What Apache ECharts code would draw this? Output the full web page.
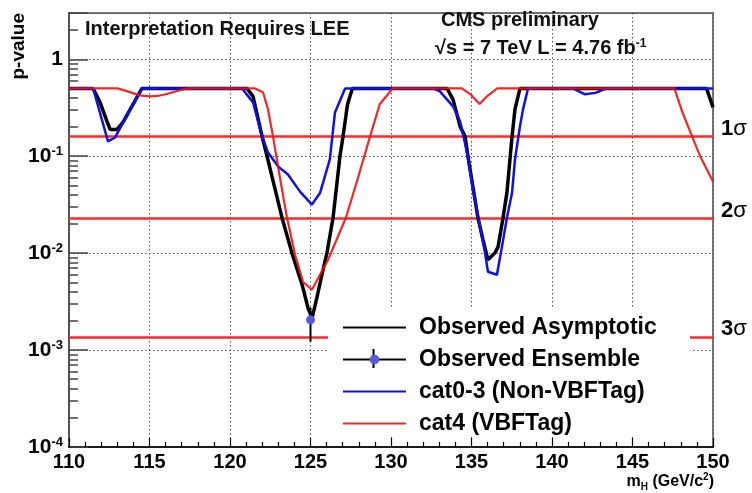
<!DOCTYPE html>
<html><head><meta charset="utf-8">
<script src="https://cdn.jsdelivr.net/npm/echarts@6/dist/echarts.min.js"></script>
<style>html,body{margin:0;padding:0;background:#fff}#c{width:752px;height:493px}</style>
</head><body><div id="c"></div>
<script>
// ---- data ----
const obsMass = [110, 111.5, 111.93, 112.36, 112.55, 112.98, 113.35, 114.53,
  121.06, 121.43, 121.99, 122.3, 123.23, 123.85, 124.5, 124.85, 125.1, 125.4, 125.7, 126.02, 126.4, 126.83, 127.02, 127.3, 127.6,
  133.48, 133.85, 134.29, 134.6, 134.78, 135.4, 135.71, 136.02, 136.46, 136.65, 136.96, 137.2, 137.52, 137.7, 138.01,
  149.6, 150];
const obsP = [0.5, 0.5, 0.359, 0.229, 0.189, 0.189, 0.223, 0.5,
  0.5, 0.414, 0.16, 0.1, 0.0232, 0.01, 0.0046, 0.0027, 0.00215, 0.0035, 0.0059, 0.01, 0.0232, 0.1, 0.16, 0.343, 0.5,
  0.5, 0.386, 0.203, 0.16, 0.1, 0.0232, 0.0138, 0.00855, 0.0101, 0.0116, 0.0232, 0.0421, 0.16, 0.304, 0.5,
  0.5, 0.319];

const c03Mass = [110, 111.5, 112.42, 112.86, 114.53,
  120.75, 121.43, 122.0, 122.36, 123.0, 123.6, 124.35, 125.09, 125.6, 126.2, 126.52, 127.15,
  132.61, 133.04, 133.85, 134.29, 134.72, 135.09, 135.53, 135.84, 136.02, 136.58, 136.89, 137.2, 137.52, 137.7, 138.01, 138.2, 138.51,
  141.3, 142.05, 142.7, 143.4, 150];
const c03P = [0.5, 0.5, 0.142, 0.156, 0.5,
  0.5, 0.359, 0.16, 0.109, 0.078, 0.0646, 0.0431, 0.0317, 0.042, 0.0925, 0.283, 0.5,
  0.5, 0.467, 0.327, 0.229, 0.109, 0.0453, 0.0188, 0.0101, 0.00642, 0.00598, 0.0116, 0.0232, 0.0421, 0.0925, 0.203, 0.304, 0.5,
  0.5, 0.435, 0.45, 0.5, 0.5];

const c4Mass = [110, 113.0, 113.5, 114.0, 114.5, 115.0, 115.5, 116.0, 116.5, 117.0, 117.4,
  121.55, 122.05, 122.36, 122.67, 123.1, 123.54, 124.04, 124.53, 125.09, 126.09, 127.2, 127.95, 128.7, 129.3, 130.1,
  134.4, 134.9, 135.5, 136.0, 136.6,
  147.6, 148.1, 148.7, 149.2, 150];
const c4P = [0.5, 0.5, 0.475, 0.445, 0.422, 0.414, 0.418, 0.435, 0.46, 0.485, 0.5,
  0.5, 0.456, 0.304, 0.16, 0.0602, 0.0232, 0.0096, 0.00506, 0.00419, 0.00855, 0.0232, 0.06, 0.16, 0.343, 0.5,
  0.5, 0.44, 0.345, 0.42, 0.5,
  0.5, 0.283, 0.16, 0.1, 0.0547];

const ensMass = [125];
const ensP = [0.00205];
const ensLo = [0.00122];
const ensHi = [0.00275];

const sigmaP = [0.1587, 0.02275, 0.00135];
const sigmaLabels = ['1σ', '2σ', '3σ'];

const seriesNames = ['Observed Asymptotic', 'Observed Ensemble', 'cat0-3 (Non-VBFTag)', 'cat4 (VBFTag)'];
const xTicks = [110, 115, 120, 125, 130, 135, 140, 145, 150];
const yDecades = [-4, -3, -2, -1, 0];

// ---- chart ----
const FONT = '"Liberation Sans", Arial, Helvetica, sans-serif';
const zip = (a, b) => a.map((m, i) => [m, b[i]]);
const minorY = [];
yDecades.forEach(e => { for (let k = 2; k <= 9; k++) { const v = k * Math.pow(10, e); if (v < 2.9) minorY.push(v); } });
const noSym = { color: 'rgba(0,0,0,0)', borderColor: 'rgba(0,0,0,0)', borderWidth: 0, opacity: 0 };

const chart = echarts.init(document.getElementById('c'), null, { renderer: 'canvas' });
const option = {
  animation: false,
  backgroundColor: '#fff',
  grid: { left: 69, right: 39, top: 13, bottom: 46, show: true, borderColor: '#777', borderWidth: 2, backgroundColor: 'transparent' },
  xAxis: {
    type: 'value', min: xTicks[0], max: xTicks[xTicks.length - 1], interval: 5,
    axisLine: { show: true, lineStyle: { color: '#000', width: 1.5 } },
    axisTick: { show: true, inside: true, length: 9, lineStyle: { color: '#000', width: 1.2 } },
    minorTick: { show: true, splitNumber: 5, length: 5, lineStyle: { color: '#000', width: 1.2 } },
    axisLabel: { fontFamily: FONT, fontSize: 20, fontWeight: 'bold', color: '#000', margin: 5 },
    splitLine: { show: true, lineStyle: { color: '#555', width: 1, type: [1.5, 2.5] } }
  },
  yAxis: [{
    type: 'log', logBase: 10, min: 1e-4, max: 3,
    axisLine: { show: true, lineStyle: { color: '#555', width: 2 } },
    axisTick: { show: true, inside: true, length: 19, lineStyle: { color: '#444', width: 1.5 } },
    axisLabel: {
      margin: 6, color: '#000',
      formatter: v => {
        if (v > 1.5) return '';
        const e = Math.round(Math.log10(v));
        return e === 0 ? '{b|1}' : '{b|10}{s|' + e + '}';
      },
      rich: {
        b: { fontFamily: FONT, fontSize: 21, fontWeight: 'bold', color: '#000', lineHeight: 22 },
        s: { fontFamily: FONT, fontSize: 13, fontWeight: 'bold', color: '#000', lineHeight: 22, verticalAlign: 'top', padding: [0, 0, 12, 0] }
      }
    },
    splitLine: { show: true, lineStyle: { color: '#555', width: 1, type: [1.5, 2.5] } }
  }, {
    type: 'log', logBase: 10, min: 1e-4, max: 3, position: 'left', offset: 0,
    axisLine: { show: false },
    axisLabel: { show: false },
    splitLine: { show: false },
    axisTick: { show: true, inside: true, length: 9, customValues: minorY, lineStyle: { color: '#444', width: 1.5 } }
  }],
  legend: {
    orient: 'vertical', left: 337, top: 311, itemWidth: 63, itemHeight: 12, itemGap: 9,
    data: [
      { name: seriesNames[0], itemStyle: noSym },
      { name: seriesNames[1] },
      { name: seriesNames[2], itemStyle: noSym },
      { name: seriesNames[3], itemStyle: noSym }
    ],
    textStyle: { fontFamily: FONT, fontSize: 23, fontWeight: 'bold', color: '#000', padding: [0, 0, 0, 8] },
    z: 5
  },
  series: [
    { name: seriesNames[0], type: 'line', data: zip(obsMass, obsP), symbol: 'none', lineStyle: { color: '#000', width: 3.5 }, itemStyle: { color: '#000' }, z: 2 },
    { name: seriesNames[1], type: 'line', data: zip(ensMass, ensP), symbol: 'circle', symbolSize: 9, itemStyle: { color: '#5a5ad8' }, lineStyle: { color: '#000', width: 2 }, z: 4 },
    { name: seriesNames[2], type: 'line', data: zip(c03Mass, c03P), symbol: 'none', lineStyle: { color: '#1010e6', width: 2.5 }, itemStyle: { color: '#1010e6' }, z: 2 },
    { name: seriesNames[3], type: 'line', data: zip(c4Mass, c4P), symbol: 'none', lineStyle: { color: '#ee1111', width: 2.2, opacity: 0.9 }, itemStyle: { color: '#ee1111' }, z: 2 },
    { name: 'ensErr', type: 'line', data: [[ensMass[0], ensLo[0]], [ensMass[0], ensHi[0]]], symbol: 'none', lineStyle: { color: '#000', width: 2 }, z: 2,
      markLine: {
        z: 2, silent: true, symbol: 'none', precision: 8,
        lineStyle: { color: '#ff2a2a', width: 2.5, type: 'solid' },
        label: {
          show: true, position: 'end', distance: 8, padding: [0, 0, 16, 0],
          formatter: p => '{n|' + p.name.charAt(0) + '}{g|σ}',
          rich: {
            n: { fontFamily: FONT, fontSize: 22, fontWeight: 'bold', color: '#000' },
            g: { fontFamily: FONT, fontSize: 22, color: '#000' }
          }
        },
        data: sigmaP.map((v, i) => ({ name: sigmaLabels[i], yAxis: v }))
      }
    }
  ],
  graphic: { elements: [
    { type: 'rect', z: 3, shape: { x: 328, y: 308, width: 362, height: 127 }, style: { fill: '#fff' } },
    { type: 'line', z: 4, shape: { x1: 373.5, y1: 349, x2: 373.5, y2: 368 }, style: { stroke: '#000', lineWidth: 2 } },
    { type: 'text', z: 10, x: 85, y: 29, style: { text: 'Interpretation Requires LEE', fontFamily: FONT, fontSize: 20, fontWeight: 'bold', fill: '#111', align: 'left', verticalAlign: 'middle' } },
    { type: 'text', z: 10, x: 441, y: 20, style: { text: 'CMS preliminary', fontFamily: FONT, fontSize: 20, fontWeight: 'bold', fill: '#111', align: 'left', verticalAlign: 'middle' } },
    { type: 'text', z: 10, x: 435, y: 48, style: {
        text: '{a|√s = 7 TeV L = 4.76 fb}{s|-1}', align: 'left', verticalAlign: 'middle',
        rich: {
          a: { fontFamily: FONT, fontSize: 20, fontWeight: 'bold', fill: '#111', lineHeight: 20 },
          s: { fontFamily: FONT, fontSize: 12, fontWeight: 'bold', fill: '#111', lineHeight: 20, verticalAlign: 'top', padding: [0, 0, 10, 0] }
        } } },
    { type: 'text', z: 10, x: 19, y: 13, rotation: Math.PI / 2, style: { text: 'p-value', fontFamily: FONT, fontSize: 19, fontWeight: 'bold', fill: '#000', align: 'right', verticalAlign: 'middle' } },
    { type: 'text', z: 10, x: 714, y: 482, style: {
        text: '{a|m}{b|H}{a| (GeV/c}{c|2}{a|)}', align: 'right', verticalAlign: 'middle',
        rich: {
          a: { fontFamily: FONT, fontSize: 16, fontWeight: 'bold', fill: '#000', lineHeight: 20 },
          b: { fontFamily: FONT, fontSize: 10, fontWeight: 'bold', fill: '#000', lineHeight: 20, verticalAlign: 'bottom', padding: [8, 0, 0, 0] },
          c: { fontFamily: FONT, fontSize: 10, fontWeight: 'bold', fill: '#000', lineHeight: 20, verticalAlign: 'top', padding: [0, 0, 8, 0] }
        } } }
  ] }
};
chart.setOption(option);
</script></body></html>
